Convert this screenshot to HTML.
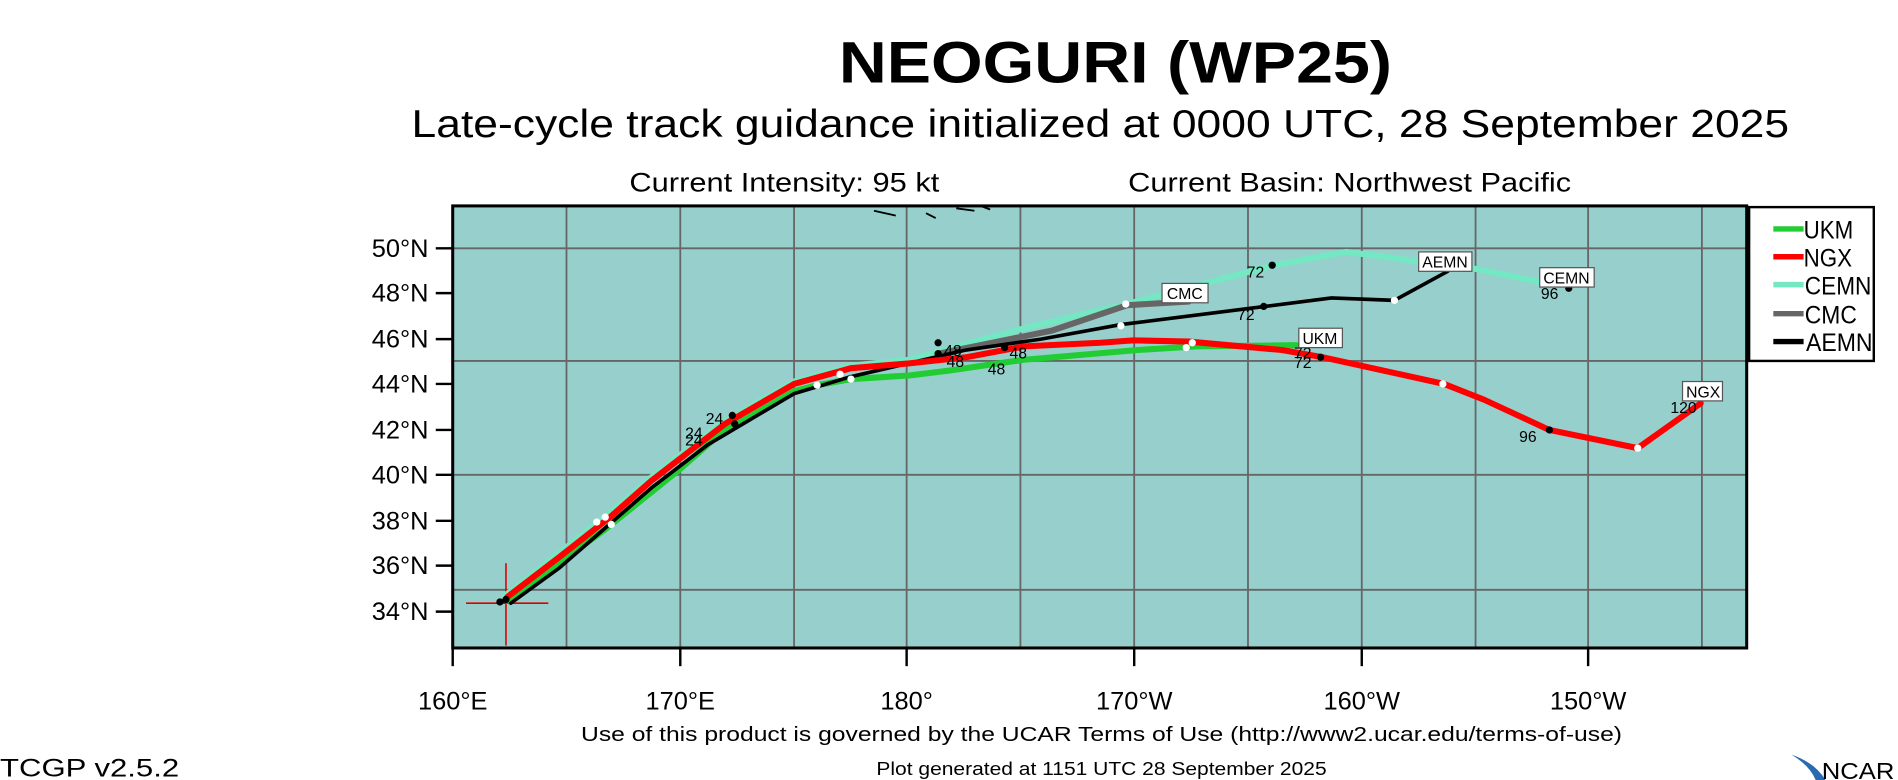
<!DOCTYPE html>
<html><head><meta charset="utf-8"><style>html,body{margin:0;padding:0;background:#fff}svg{display:block}</style></head>
<body>
<svg width="1898" height="780" viewBox="0 0 1568 644" preserveAspectRatio="none" xmlns="http://www.w3.org/2000/svg" font-family="Liberation Sans, Arial, sans-serif">
<rect width="1568" height="644" fill="#fff"/>
<text x="693" y="68" font-size="48" font-weight="bold" textLength="457" lengthAdjust="spacingAndGlyphs">NEOGURI (WP25)</text>
<text x="340" y="113" font-size="32" textLength="1138" lengthAdjust="spacingAndGlyphs">Late-cycle track guidance initialized at 0000 UTC, 28 September 2025</text>
<text x="520" y="158" font-size="22" textLength="256" lengthAdjust="spacingAndGlyphs">Current Intensity: 95 kt</text>
<text x="932" y="158" font-size="22" textLength="366" lengthAdjust="spacingAndGlyphs">Current Basin: Northwest Pacific</text>
<rect x="374" y="170" width="1069" height="365" fill="#97cfcd"/>
<g stroke="#666" stroke-width="1.5">
<line x1="468" y1="170" x2="468" y2="535"/><line x1="562" y1="170" x2="562" y2="535"/><line x1="656" y1="170" x2="656" y2="535"/><line x1="749" y1="170" x2="749" y2="535"/><line x1="843" y1="170" x2="843" y2="535"/><line x1="937" y1="170" x2="937" y2="535"/><line x1="1031" y1="170" x2="1031" y2="535"/><line x1="1125" y1="170" x2="1125" y2="535"/><line x1="1219" y1="170" x2="1219" y2="535"/><line x1="1312" y1="170" x2="1312" y2="535"/><line x1="1406" y1="170" x2="1406" y2="535"/>
<line x1="374" y1="205" x2="1443" y2="205"/><line x1="374" y1="298" x2="1443" y2="298"/><line x1="374" y1="392" x2="1443" y2="392"/><line x1="374" y1="487" x2="1443" y2="487"/>
</g>
<g stroke="#000" stroke-width="1.5" fill="none"><path d="M722 174 L740 178 M765 176 l8 4 M790 172 l15 2 M810 170 l8 3"/></g>
<rect x="374" y="170" width="1069" height="365" fill="none" stroke="#000" stroke-width="2.5"/>
<g stroke="#000" stroke-width="2">
<line x1="360" y1="205" x2="374" y2="205"/><line x1="360" y1="242" x2="374" y2="242"/><line x1="360" y1="280" x2="374" y2="280"/><line x1="360" y1="317" x2="374" y2="317"/><line x1="360" y1="355" x2="374" y2="355"/><line x1="360" y1="392" x2="374" y2="392"/><line x1="360" y1="430" x2="374" y2="430"/><line x1="360" y1="467" x2="374" y2="467"/><line x1="360" y1="505" x2="374" y2="505"/>
<line x1="374" y1="535" x2="374" y2="550"/><line x1="562" y1="535" x2="562" y2="550"/><line x1="749" y1="535" x2="749" y2="550"/><line x1="937" y1="535" x2="937" y2="550"/><line x1="1125" y1="535" x2="1125" y2="550"/><line x1="1312" y1="535" x2="1312" y2="550"/>
</g>
<g font-size="21" text-anchor="end">
<text x="354" y="212">50°N</text><text x="354" y="249">48°N</text><text x="354" y="287">46°N</text><text x="354" y="324">44°N</text><text x="354" y="362">42°N</text><text x="354" y="399">40°N</text><text x="354" y="437">38°N</text><text x="354" y="474">36°N</text><text x="354" y="512">34°N</text>
</g>
<g font-size="21" text-anchor="middle">
<text x="374" y="586">160°E</text><text x="562" y="586">170°E</text><text x="749" y="586">180°</text><text x="937" y="586">170°W</text><text x="1125" y="586">160°W</text><text x="1312" y="586">150°W</text>
</g>
<g stroke="#d00" stroke-width="1.3"><line x1="385" y1="498" x2="453" y2="498"/><line x1="418" y1="465" x2="418" y2="533"/></g>
<g fill="none" stroke-linejoin="round" stroke-linecap="round">
<polyline stroke="#73e8c3" stroke-width="5" points="417,492 460,458 502,425 537,395 598,348 656,315 703,302 751,297 850,270 931,251 1052,219 1112,208 1219,222 1278,234"/>
<polyline stroke="#666" stroke-width="5" points="775,292 869,273 931,252 982,249"/>
<polyline stroke="#22cc33" stroke-width="5" points="419,496 500,437 561,388 595,358 656,323 675,318 703,313 751,310 784,306 846,297 940,289 988,286 1071,285"/>
<polyline stroke="#000" stroke-width="3" points="422,498 462,469 538,403 585,367 656,325 703,311 798,289 860,280 926,268 1045,253 1100,246 1152,248 1196,224"/>
<polyline stroke="#ff0000" stroke-width="5" points="419,493 462,460 504,427 538,397 599,350 656,317 703,304 751,300 798,295 846,286 909,283 936,281 982,282 1059,289 1093,295 1193,317 1226,330 1280,355 1353,370 1405,333"/>
</g>
<g fill="#fff"><circle cx="493" cy="431" r="3"/><circle cx="500" cy="427" r="3"/><circle cx="505" cy="433" r="3"/><circle cx="675" cy="318" r="3"/><circle cx="694" cy="309" r="3"/><circle cx="703" cy="313" r="3"/><circle cx="930" cy="251" r="3"/><circle cx="926" cy="269" r="3"/><circle cx="985" cy="283" r="3"/><circle cx="980" cy="287" r="3"/><circle cx="1152" cy="248" r="3"/><circle cx="1192" cy="317" r="3"/><circle cx="1353" cy="370" r="3"/></g>
<g fill="#000"><circle cx="413" cy="497" r="3"/><circle cx="418" cy="495" r="3"/><circle cx="605" cy="343" r="3"/><circle cx="607" cy="350" r="3"/><circle cx="775" cy="283" r="3"/><circle cx="775" cy="292" r="3"/><circle cx="830" cy="287" r="3"/><circle cx="1051" cy="219" r="3"/><circle cx="1044" cy="253" r="3"/><circle cx="1091" cy="295" r="3"/><circle cx="1280" cy="355" r="3"/><circle cx="1296" cy="238" r="3"/></g>
<g font-size="13">
<text x="1030" y="229">72</text><text x="1022" y="264">72</text><text x="1069" y="296">72</text><text x="1069" y="304">72</text><text x="1273" y="247">96</text><text x="1255" y="365">96</text><text x="1380" y="341">120</text>
<text x="780" y="294">48</text><text x="782" y="303">48</text><text x="816" y="309">48</text><text x="834" y="296">48</text><text x="583" y="350">24</text><text x="566" y="362">24</text><text x="566" y="368">24</text>
</g>
<g font-size="13"><g fill="#fff" stroke="#555" stroke-width="1">
<rect x="960" y="234" width="38" height="16"/><rect x="1073" y="271" width="36" height="16"/><rect x="1172" y="208" width="44" height="16"/><rect x="1272" y="221" width="45" height="16"/><rect x="1390" y="315" width="33" height="16"/></g>
<text x="964" y="247">CMC</text><text x="1076" y="284">UKM</text><text x="1175" y="221">AEMN</text><text x="1275" y="234">CEMN</text><text x="1393" y="328">NGX</text></g>
<rect x="1445" y="171" width="103" height="127" fill="#fff" stroke="#000" stroke-width="2"/>
<g stroke-width="4.5"><line x1="1465" y1="189" x2="1490" y2="189" stroke="#22cc33"/><line x1="1465" y1="212" x2="1490" y2="212" stroke="#ff0000"/><line x1="1465" y1="235" x2="1490" y2="235" stroke="#73e8c3"/><line x1="1465" y1="259" x2="1490" y2="259" stroke="#666"/><line x1="1465" y1="282" x2="1490" y2="282" stroke="#000"/></g>
<g font-size="21">
<text x="1490" y="197" textLength="41" lengthAdjust="spacingAndGlyphs">UKM</text>
<text x="1490" y="220" textLength="40" lengthAdjust="spacingAndGlyphs">NGX</text>
<text x="1491" y="243" textLength="55" lengthAdjust="spacingAndGlyphs">CEMN</text>
<text x="1491" y="267" textLength="43" lengthAdjust="spacingAndGlyphs">CMC</text>
<text x="1492" y="290" textLength="55" lengthAdjust="spacingAndGlyphs">AEMN</text>
</g>
<text x="480" y="612" font-size="17" textLength="860" lengthAdjust="spacingAndGlyphs">Use of this product is governed by the UCAR Terms of Use (http://www2.ucar.edu/terms-of-use)</text>
<text x="0" y="641" font-size="21" textLength="148" lengthAdjust="spacingAndGlyphs">TCGP v2.5.2</text>
<text x="724" y="640" font-size="15" textLength="372" lengthAdjust="spacingAndGlyphs">Plot generated at 1151 UTC   28 September 2025</text>
<path d="M1480 623 Q1500 630 1508 644 L1500 644 Q1495 632 1480 623 Z" fill="#2a6ab0"/>
<text x="1505" y="643" font-size="19" textLength="60" lengthAdjust="spacingAndGlyphs">NCAR</text>
</svg>
</body></html>
